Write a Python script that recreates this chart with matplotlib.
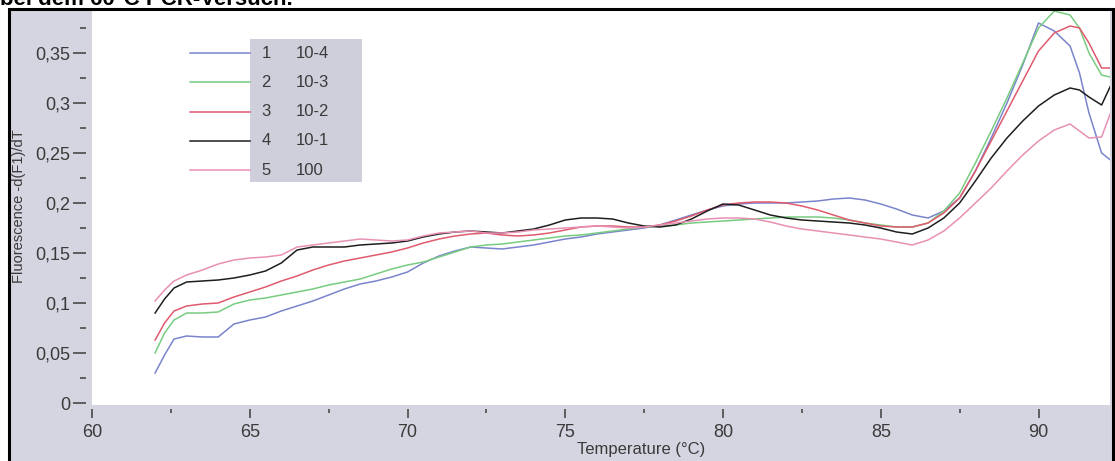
import matplotlib.pyplot as plt
from matplotlib.patches import Rectangle
from matplotlib.lines import Line2D
from matplotlib.ticker import MultipleLocator, FuncFormatter

# Schmelzkurven
temperature = [62.0, 62.3, 62.6, 63.0, 63.5, 64.0, 64.5, 65.0, 65.5, 66.0,
               66.5, 67.0, 67.5, 68.0, 68.5, 69.0, 69.5, 70.0, 70.5, 71.0,
               71.5, 72.0, 72.5, 73.0, 73.5, 74.0, 74.5, 75.0, 75.5, 76.0,
               76.5, 77.0, 77.5, 78.0, 78.5, 79.0, 79.5, 80.0, 80.5, 81.0,
               81.5, 82.0, 82.5, 83.0, 83.5, 84.0, 84.5, 85.0, 85.5, 86.0,
               86.5, 87.0, 87.5, 88.0, 88.5, 89.0, 89.5, 90.0, 90.5, 91.0,
               91.3, 91.6, 92.0, 92.4]

kurve_1 = [0.030, 0.048, 0.064, 0.067, 0.066, 0.066, 0.079, 0.083, 0.086, 0.092,
           0.097, 0.102, 0.108, 0.114, 0.119, 0.122, 0.126, 0.131, 0.140, 0.147,
           0.152, 0.156, 0.155, 0.154, 0.156, 0.158, 0.161, 0.164, 0.166, 0.169,
           0.171, 0.173, 0.175, 0.178, 0.183, 0.188, 0.193, 0.197, 0.199, 0.200,
           0.200, 0.200, 0.201, 0.202, 0.204, 0.205, 0.203, 0.199, 0.194, 0.188,
           0.185, 0.192, 0.205, 0.232, 0.265, 0.300, 0.338, 0.380, 0.372, 0.357,
           0.330, 0.290, 0.250, 0.240]

kurve_2 = [0.050, 0.070, 0.083, 0.090, 0.090, 0.091, 0.099, 0.103, 0.105, 0.108,
           0.111, 0.114, 0.118, 0.121, 0.124, 0.129, 0.134, 0.138, 0.141, 0.146,
           0.151, 0.156, 0.158, 0.159, 0.161, 0.163, 0.165, 0.167, 0.168, 0.170,
           0.172, 0.174, 0.176, 0.177, 0.178, 0.180, 0.181, 0.182, 0.183, 0.184,
           0.185, 0.186, 0.186, 0.186, 0.185, 0.183, 0.180, 0.178, 0.176, 0.176,
           0.180, 0.192, 0.210, 0.240, 0.272, 0.305, 0.340, 0.375, 0.392, 0.388,
           0.375, 0.350, 0.328, 0.325]

kurve_3 = [0.063, 0.080, 0.092, 0.097, 0.099, 0.100, 0.106, 0.111, 0.116, 0.122,
           0.127, 0.133, 0.138, 0.142, 0.145, 0.148, 0.151, 0.155, 0.160, 0.164,
           0.167, 0.169, 0.170, 0.168, 0.167, 0.168, 0.170, 0.173, 0.176, 0.177,
           0.177, 0.176, 0.176, 0.178, 0.182, 0.187, 0.193, 0.198, 0.200, 0.201,
           0.201, 0.200, 0.197, 0.193, 0.188, 0.183, 0.180, 0.177, 0.176, 0.176,
           0.180, 0.190, 0.205, 0.232, 0.262, 0.292, 0.322, 0.352, 0.370, 0.377,
           0.375, 0.360, 0.335, 0.335]

kurve_4 = [0.090, 0.104, 0.115, 0.121, 0.122, 0.123, 0.125, 0.128, 0.132, 0.140,
           0.153, 0.156, 0.156, 0.156, 0.158, 0.159, 0.160, 0.162, 0.166, 0.169,
           0.171, 0.172, 0.171, 0.170, 0.172, 0.174, 0.178, 0.183, 0.185, 0.185,
           0.184, 0.180, 0.177, 0.176, 0.178, 0.184, 0.192, 0.199, 0.198, 0.193,
           0.188, 0.185, 0.183, 0.182, 0.181, 0.180, 0.178, 0.175, 0.171, 0.169,
           0.175, 0.185, 0.200, 0.222, 0.245, 0.265, 0.282, 0.297, 0.308, 0.315,
           0.313, 0.306, 0.298, 0.325]

kurve_5 = [0.102, 0.113, 0.122, 0.128, 0.133, 0.139, 0.143, 0.145, 0.146, 0.148,
           0.156, 0.158, 0.160, 0.162, 0.164, 0.163, 0.162, 0.163, 0.167, 0.170,
           0.171, 0.172, 0.170, 0.170, 0.171, 0.173, 0.174, 0.175, 0.176, 0.177,
           0.176, 0.175, 0.176, 0.178, 0.180, 0.182, 0.184, 0.185, 0.185, 0.184,
           0.181, 0.177, 0.174, 0.172, 0.170, 0.168, 0.166, 0.164, 0.161, 0.158,
           0.163, 0.172, 0.185, 0.200, 0.215, 0.232, 0.248, 0.262, 0.273, 0.279,
           0.272, 0.265, 0.266, 0.300]

nummern = ['1', '2', '3', '4', '5']
verduennung = ['10-4', '10-3', '10-2', '10-1', '100']
farben = ['#7a84cc', '#78cc80', '#e05a6e', '#1e1e1e', '#e890b4']
kurven = [kurve_1, kurve_2, kurve_3, kurve_4, kurve_5]

W, H = 1115, 461
grau = '#d5d5e1'
textfarbe = '#3a3a3a'
plt.rcParams['font.family'] = ['Liberation Sans', 'DejaVu Sans']

fig = plt.figure(figsize=(W / 100, H / 100), dpi=100)

# grauer Hintergrund hinter dem Diagramm
fig.add_artist(Rectangle((8 / W, -0.1), (1112 - 8) / W, 1.1 - 9 / H,
                         transform=fig.transFigure, facecolor=grau,
                         edgecolor='none', zorder=-1))

ax = fig.add_axes([92 / W, 1 - 405 / H, (1110 - 92) / W, (405 - 7) / H])
ax.set_facecolor('white')

for werte, farbe in zip(kurven, farben):
    ax.plot(temperature, werte, color=farbe, linewidth=1.1)

ax.set_xlim(60, 60 + (1110 - 92) / 31.55)
ax.set_ylim(-0.002, 0.396)

for s in ax.spines.values():
    s.set_visible(False)
ax.spines['left'].set_position(('outward', 4))
ax.spines['bottom'].set_position(('outward', 3))

ax.xaxis.set_major_locator(MultipleLocator(5))
ax.xaxis.set_minor_locator(MultipleLocator(2.5))
ax.yaxis.set_major_locator(MultipleLocator(0.05))
ax.yaxis.set_minor_locator(MultipleLocator(0.025))
ax.yaxis.set_major_formatter(FuncFormatter(lambda v, p: f'{v:g}'.replace('.', ',')))

ax.tick_params(axis='x', which='major', length=6.5, width=1.3, pad=4.5,
               color='#555555', labelcolor=textfarbe, labelsize=13)
ax.tick_params(axis='x', which='minor', length=3, width=1.3, color='#555555')
ax.tick_params(axis='y', which='major', length=9.5, width=1.3, pad=2,
               color='#555555', labelcolor=textfarbe, labelsize=13)
ax.tick_params(axis='y', which='minor', length=4.3, width=1.3, color='#555555')

ax.set_xlabel('Temperature (°C)', fontsize=12, color=textfarbe)
ax.xaxis.set_label_coords((641 - 92) / (1110 - 92), -(442 - 405) / (405 - 7))
ax.set_ylabel('Fluorescence -d(F1)/dT', fontsize=10.5, color=textfarbe)
ax.yaxis.set_label_coords(-(92 - 26) / (1110 - 92), 0.5)

# Legende wie im Original: Linien auf weiss, Beschriftung auf grau
fig.add_artist(Rectangle((185 / W, 1 - 182 / H), (250 - 185) / W, (182 - 39) / H,
                         transform=fig.transFigure, facecolor='white',
                         edgecolor='none', zorder=2))
fig.add_artist(Rectangle((250 / W, 1 - 182 / H), (362 - 250) / W, (182 - 39) / H,
                         transform=fig.transFigure, facecolor='#cfcfdc',
                         edgecolor='none', zorder=2))
for i, (nr, lab, farbe) in enumerate(zip(nummern, verduennung, farben)):
    yy = 1 - (53 + i * 29.3) / H
    fig.add_artist(Line2D([190 / W, 250 / W], [yy, yy], transform=fig.transFigure,
                          color=farbe, linewidth=1.1, zorder=3))
    fig.text(266 / W, yy, nr, ha='center', va='center', fontsize=12,
             color=textfarbe, zorder=3)
    fig.text(296 / W, yy, lab, ha='left', va='center', fontsize=12,
             color=textfarbe, zorder=3)

# schwarzer Rahmen
fig.add_artist(Rectangle((8.5 / W, -0.1), (1112.5 - 8.5) / W, 1.1 - 9 / H,
                         transform=fig.transFigure, fill=False,
                         edgecolor='black', linewidth=2.2, zorder=5))

# Ueberschrift, oben abgeschnitten wie im Original
fig.text(0.0, 1 - 5 / H, 'bei dem 60°C PCR-Versuch.', ha='left', va='baseline',
         fontsize=16, fontweight='bold', color='black', zorder=6)

plt.savefig('out.png', dpi=100)
